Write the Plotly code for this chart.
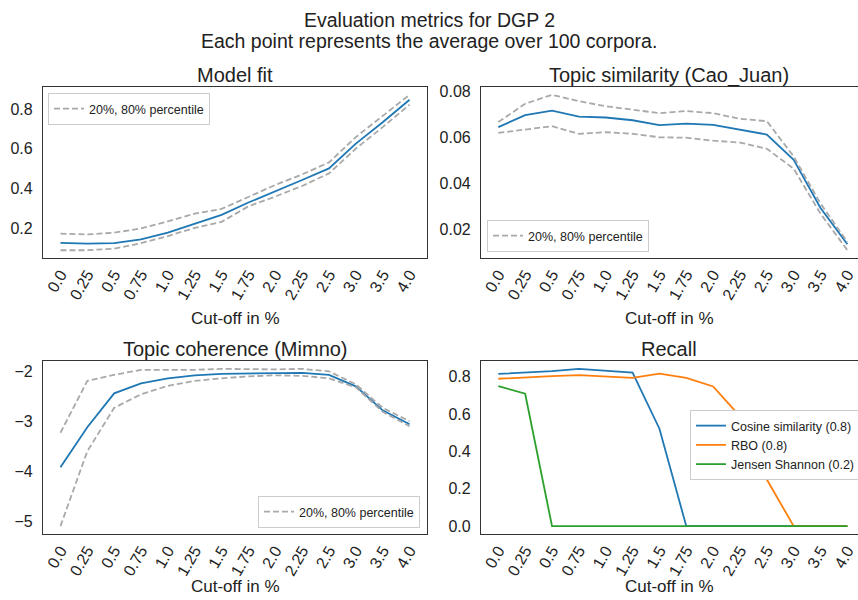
import plotly.graph_objects as go
from plotly.subplots import make_subplots

cutoffs = ["0.0", "0.25", "0.5", "0.75", "1.0", "1.25", "1.5", "1.75",
           "2.0", "2.25", "2.5", "3.0", "3.5", "4.0"]

# model fit
fit_mean = [0.129, 0.125, 0.128, 0.146, 0.180, 0.226, 0.269, 0.331,
            0.386, 0.444, 0.502, 0.626, 0.733, 0.846]
fit_p20 = [0.092, 0.092, 0.100, 0.127, 0.163, 0.204, 0.234, 0.312,
           0.361, 0.414, 0.477, 0.601, 0.709, 0.821]
fit_p80 = [0.175, 0.171, 0.180, 0.201, 0.237, 0.275, 0.299, 0.361,
           0.419, 0.472, 0.532, 0.659, 0.767, 0.871]

# topic similarity (Cao_Juan)
sim_mean = [0.0645, 0.0697, 0.0717, 0.0691, 0.0687, 0.0675, 0.0654, 0.0660,
            0.0655, 0.0635, 0.0613, 0.0503, 0.0293, 0.0135]
sim_p20 = [0.0620, 0.0633, 0.0649, 0.0616, 0.0623, 0.0616, 0.0601, 0.0599,
           0.0586, 0.0578, 0.0551, 0.0464, 0.0268, 0.0109]
sim_p80 = [0.0667, 0.0747, 0.0786, 0.0758, 0.0736, 0.0720, 0.0706, 0.0715,
           0.0706, 0.0681, 0.0671, 0.0517, 0.0312, 0.0145]

# topic coherence (Mimno)
coh_mean = [-3.92, -3.12, -2.44, -2.24, -2.14, -2.08, -2.05, -2.04,
            -2.03, -2.03, -2.07, -2.30, -2.78, -3.06]
coh_p20 = [-5.10, -3.60, -2.73, -2.46, -2.29, -2.19, -2.14, -2.10,
           -2.08, -2.09, -2.14, -2.32, -2.81, -3.10]
coh_p80 = [-3.23, -2.19, -2.07, -1.97, -1.97, -1.97, -1.95, -1.96,
           -1.96, -1.95, -2.00, -2.26, -2.73, -3.00]

# recall
recall_cosine = [0.814, 0.820, 0.829, 0.841, 0.832, 0.821, 0.521, 0.0,
                 0.0, 0.0, 0.0, 0.0, 0.0, 0.0]
recall_rbo = [0.788, 0.793, 0.802, 0.807, 0.800, 0.793, 0.816, 0.793,
              0.747, 0.587, 0.249, 0.0, 0.0, 0.0]
recall_js = [0.749, 0.708, 0.0, 0.0, 0.0, 0.0, 0.0, 0.0,
             0.0, 0.0, 0.0, 0.0, 0.0, 0.0]

FONT = "Liberation Sans, Arial, sans-serif"
BLUE, ORANGE, GREEN, GREY = "#1f77b4", "#ff7f0e", "#2ca02c", "darkgrey"
AXIS_COLOR = "#333333"
TEXT = "#222222"


def padded_range(*series):
    """matplotlib-like 5% margin around the data."""
    lo = min(min(s) for s in series)
    hi = max(max(s) for s in series)
    pad = (hi - lo) * 0.05
    return [lo - pad, hi + pad]


fig = make_subplots(rows=2, cols=2)

panels = [
    (1, 1, fit_mean, fit_p20, fit_p80, "legend"),
    (1, 2, sim_mean, sim_p20, sim_p80, "legend2"),
    (2, 1, coh_mean, coh_p20, coh_p80, "legend3"),
]
for row, col, mean, p20, p80, leg in panels:
    fig.add_trace(go.Scatter(x=cutoffs, y=mean, mode="lines", showlegend=False,
                             line=dict(color=BLUE, width=1.8)), row=row, col=col)
    fig.add_trace(go.Scatter(x=cutoffs, y=p80, mode="lines", name="20%, 80% percentile",
                             legend=leg, line=dict(color=GREY, width=1.8, dash="6px,3px")),
                  row=row, col=col)
    fig.add_trace(go.Scatter(x=cutoffs, y=p20, mode="lines", showlegend=False,
                             line=dict(color=GREY, width=1.8, dash="6px,3px")),
                  row=row, col=col)

for name, vals, color in [("Cosine similarity (0.8)", recall_cosine, BLUE),
                          ("RBO (0.8)", recall_rbo, ORANGE),
                          ("Jensen Shannon (0.2)", recall_js, GREEN)]:
    fig.add_trace(go.Scatter(x=cutoffs, y=vals, mode="lines", name=name, legend="legend4",
                             line=dict(color=color, width=1.8)), row=2, col=2)

# panel placement in pixels of the 858x600 page
W, H = 858, 600
x_left = [43 / W, 427 / W]
x_right = [481 / W, 1.0]
y_top = [1 - 258 / H, 1 - 87 / H]
y_bottom = [1 - 534 / H, 1 - 361 / H]

axis_common = dict(showgrid=False, zeroline=False, showline=True, linecolor=AXIS_COLOR,
                   linewidth=1.25, ticks="", automargin=False,
                   tickfont=dict(size=16, color=TEXT))

for row, col in [(1, 1), (1, 2), (2, 1), (2, 2)]:
    right = col == 2
    fig.update_xaxes(axis_common, type="category", tickangle=-60, mirror=True,
                     domain=x_right if right else x_left,
                     range=[-0.645, 13.395] if right else [-0.65, 13.65],
                     row=row, col=col)
    fig.update_yaxes(axis_common, mirror=not right, ticklabelstandoff=6,
                     domain=y_top if row == 1 else y_bottom, row=row, col=col)

fig.update_yaxes(range=padded_range(fit_mean, fit_p20, fit_p80), tickvals=[0.2, 0.4, 0.6, 0.8],
                 tickformat=".1f", row=1, col=1)
fig.update_yaxes(range=padded_range(sim_mean, sim_p20, sim_p80),
                 tickvals=[0.02, 0.04, 0.06, 0.08], tickformat=".2f", row=1, col=2)
fig.update_yaxes(range=padded_range(coh_mean, coh_p20, coh_p80), tickvals=[-5, -4, -3, -2],
                 tickformat="d", row=2, col=1)
fig.update_yaxes(range=padded_range(recall_cosine, recall_rbo, recall_js),
                 tickvals=[0.0, 0.2, 0.4, 0.6, 0.8], tickformat=".1f", row=2, col=2)

legend_common = dict(bgcolor="white", bordercolor="#cccccc", borderwidth=1,
                     font=dict(size=12.5, color=TEXT), itemwidth=30, tracegroupgap=0)

fig.update_layout(
    width=W, height=H,
    margin=dict(l=0, r=0, t=0, b=0, autoexpand=False),
    plot_bgcolor="white", paper_bgcolor="white",
    font=dict(family=FONT, color=TEXT),
    legend=dict(legend_common, x=48 / W, y=1 - 93 / H, xanchor="left", yanchor="top"),
    legend2=dict(legend_common, x=487 / W, y=1 - 252 / H, xanchor="left", yanchor="bottom"),
    legend3=dict(legend_common, x=420 / W, y=1 - 528 / H, xanchor="right", yanchor="bottom"),
    legend4=dict(legend_common, x=690 / W, y=1 - 410 / H, xanchor="left", yanchor="top"),
)

# suptitle, panel titles and x-axis titles
titles = [
    ("Evaluation metrics for DGP 2", 429, 20, 19.5),
    ("Each point represents the average over 100 corpora.", 429, 41, 19.5),
    ("Model fit", 235, 75, 20),
    ("Topic similarity (Cao_Juan)", 669, 75, 20),
    ("Topic coherence (Mimno)", 235, 349, 20),
    ("Recall", 669, 349, 20),
    ("Cut-off in %", 235, 318, 17),
    ("Cut-off in %", 669, 318, 17),
    ("Cut-off in %", 235, 586, 17),
    ("Cut-off in %", 669, 586, 17),
]
for text, px, py, size in titles:
    fig.add_annotation(text=text, x=px / W, y=1 - py / H, xref="paper", yref="paper",
                       showarrow=False, xanchor="center", yanchor="middle",
                       font=dict(size=size, color=TEXT))

# drop the default page margin so the 858x600 figure fills the window exactly
fig.write_html("out.html", config={"displayModeBar": False},
               post_script="document.body.style.margin='0';")
